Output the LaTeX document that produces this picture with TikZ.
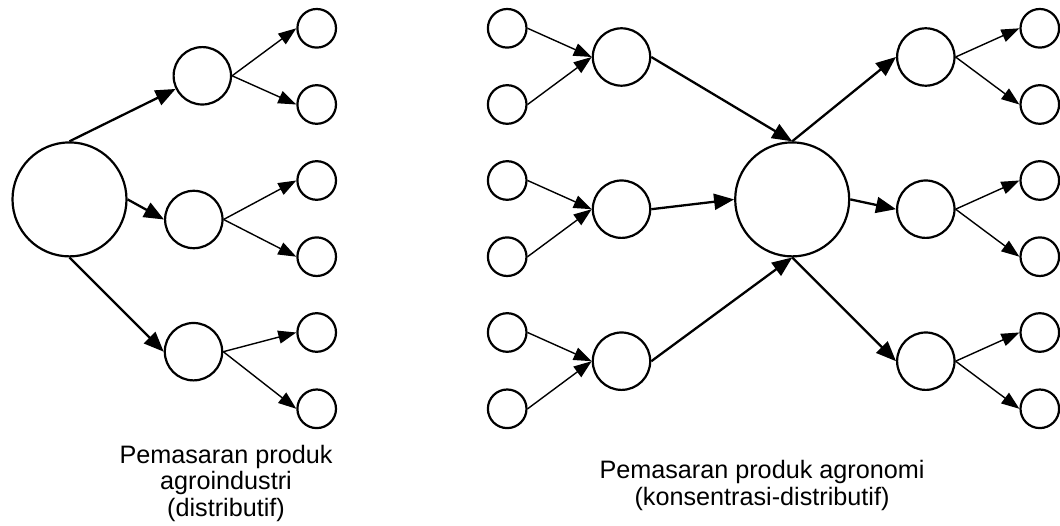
\documentclass[tikz,border=0pt]{standalone}
\usepackage{fontspec}
\setmainfont{Liberation Sans}
\usetikzlibrary{arrows.meta}
\begin{document}
\begin{tikzpicture}[x=1pt,y=-1pt,
  circ/.style={circle,draw,line width=2.2pt,inner sep=0pt,minimum size=#1},
  bigc/.style={circ=114pt},
  midc/.style={circ=57.4pt},
  smallc/.style={circ=38.6pt},
  fatarrow/.style={line width=2.3pt,-{Triangle[length=20pt,width=16pt]}},
  slimarrow/.style={line width=1.4pt,-{Triangle[length=18pt,width=13pt]}},
  lbl/.style={anchor=base,inner sep=0pt,font=\fontsize{25.2}{27}\selectfont}]
\useasboundingbox (0,0) rectangle (1060,526);
% ---------- left diagram ----------
\node[bigc] (A) at (69.5,199.4) {};
\node[midc] (AM1) at (202.3,75.8) {};
\node[midc] (AM2) at (193.8,219.5) {};
\node[midc] (AM3) at (193.5,351.7) {};
\foreach \i/\y in {1/28.3,2/104.5,3/180.5,4/256.7,5/332.5,6/408.8}
  \node[smallc] (AS\i) at (316.7,\y) {};
\draw[fatarrow] (A.north) -- (AM1);
\draw[fatarrow] (A.east) -- (AM2.west);
\draw[fatarrow] (A.south) -- (AM3.west);
\draw[slimarrow] (AM1.east) -- (AS1.west);
\draw[slimarrow] (AM1.east) -- (AS2.west);
\draw[slimarrow] (AM2.east) -- (AS3.west);
\draw[slimarrow] (AM2.east) -- (AS4.west);
\draw[slimarrow] (AM3.east) -- (AS5.west);
\draw[slimarrow] (AM3.east) -- (AS6.west);
\node[lbl] (la1) at (226,463) {Pemasaran produk};
\node[lbl] (la2) at (226,489.5) {agroindustri};
\node[lbl] (la3) at (226,516) {(distributif)};
% ---------- right diagram ----------
\node[bigc] (B) at (792.2,199.4) {};
\foreach \i/\y in {1/57,2/209.2,3/361.2}{
  \node[midc] (BL\i) at (621.5,\y) {};
  \node[midc] (BR\i) at (925.8,\y) {};
}
\foreach \i/\y in {1/28.3,2/104.5,3/180.5,4/256.7,5/332.5,6/408.8}{
  \node[smallc] (BLS\i) at (507.2,\y) {};
  \node[smallc] (BRS\i) at (1039.8,\y) {};
}
\draw[slimarrow] (BLS1.east) -- (BL1.west);
\draw[slimarrow] (BLS2.east) -- (BL1.west);
\draw[slimarrow] (BLS3.east) -- (BL2.west);
\draw[slimarrow] (BLS4.east) -- (BL2.west);
\draw[slimarrow] (BLS5.east) -- (BL3.west);
\draw[slimarrow] (BLS6.east) -- (BL3.west);
\draw[fatarrow] (BL1.east) -- (B.north);
\draw[fatarrow] (BL2.east) -- (B.west);
\draw[fatarrow] (BL3.east) -- (B.south);
\draw[fatarrow] (B.north) -- (BR1.west);
\draw[fatarrow] (B.east) -- (BR2.west);
\draw[fatarrow] (B.south) -- (BR3.west);
\draw[slimarrow] (BR1.east) -- (BRS1.west);
\draw[slimarrow] (BR1.east) -- (BRS2.west);
\draw[slimarrow] (BR2.east) -- (BRS3.west);
\draw[slimarrow] (BR2.east) -- (BRS4.west);
\draw[slimarrow] (BR3.east) -- (BRS5.west);
\draw[slimarrow] (BR3.east) -- (BRS6.west);
\node[lbl] (lb1) at (762,478.3) {Pemasaran produk agronomi};
\node[lbl] (lb2) at (762,505) {(konsentrasi-distributif)};
\end{tikzpicture}
\end{document}
